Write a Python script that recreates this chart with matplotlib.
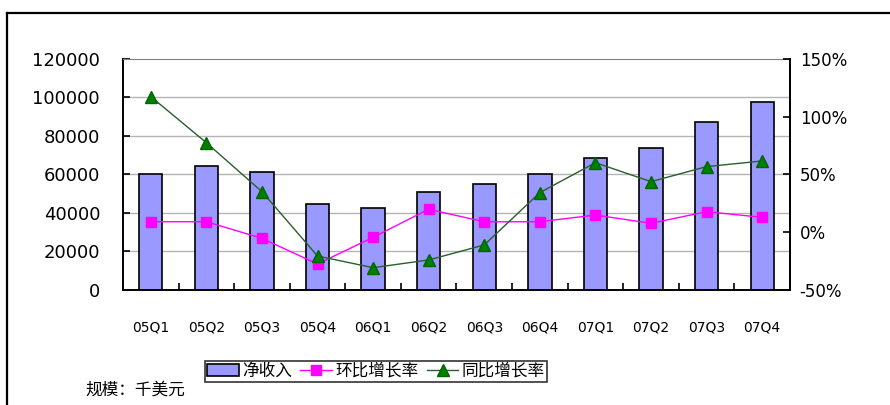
import numpy as np
import matplotlib.pyplot as plt
from matplotlib.lines import Line2D
from matplotlib.ticker import FixedLocator

plt.rcParams["font.family"] = ["DejaVu Sans", "Noto Sans CJK SC"]

quarters = ["05Q1", "05Q2", "05Q3", "05Q4", "06Q1", "06Q2",
            "06Q3", "06Q4", "07Q1", "07Q2", "07Q3", "07Q4"]
net_revenue = [60300, 64400, 61300, 44700, 42600, 50900,
               55100, 60300, 68700, 73900, 87400, 97800]
qoq_growth = [9.1, 9.1, -5.3, -27.5, -4.4, 19.9,
              9.0, 9.1, 14.9, 7.7, 17.8, 12.9]
yoy_growth = [117.4, 77.5, 35.1, -20.6, -30.7, -24.0,
              -11.0, 34.3, 60.2, 43.8, 56.8, 61.7]

left_ticks = [0, 20000, 40000, 60000, 80000, 100000, 120000]
right_ticks = [-50, 0, 50, 100, 150]

fig = plt.figure(figsize=(8.9, 4.05), dpi=100)
ax = fig.add_axes([0.1382, 0.2840, 0.7494, 0.5704])
x = np.arange(len(quarters))

ax.bar(x, net_revenue, width=0.42, color="#9999FF", edgecolor="black",
       linewidth=1.2, zorder=2, label="净收入")
ax.set_xlim(-0.5, len(quarters) - 0.5)
ax.set_ylim(0, 120000)
ax.set_yticks(left_ticks)
ax.set_yticklabels([str(v) for v in left_ticks])
for v in left_ticks[1:-1]:
    ax.axhline(v, color="#b4b4b4", linewidth=1, zorder=1)

ax.set_xticks(x)
ax.set_xticklabels(quarters, fontsize=10)
ax.xaxis.set_minor_locator(FixedLocator(x[:-1] + 0.5))
ax.tick_params(axis="x", which="major", length=0, pad=22)
ax.tick_params(axis="x", which="minor", direction="in", length=5, width=1.2)
ax.tick_params(axis="y", direction="in", length=5, width=1.2, pad=16.5,
               labelsize=13)
ax.spines["top"].set_color("#808080")
ax.spines["left"].set_linewidth(1.4)
ax.spines["bottom"].set_linewidth(1.4)
ax.spines["right"].set_linewidth(1.4)

ax2 = ax.twinx()
ax2.set_ylim(-50, 150)
ax2.set_yticks(right_ticks)
ax2.set_yticklabels([f"{v}%" for v in right_ticks])
ax2.tick_params(axis="y", direction="in", length=5, width=1.2, pad=7,
                labelsize=12)
ax2.spines["right"].set_linewidth(1.4)
ax2.spines["top"].set_visible(False)
ax2.spines["left"].set_visible(False)
ax2.spines["bottom"].set_visible(False)

ax2.plot(x, qoq_growth, color="#FF00FF", linewidth=1, marker="s",
         markersize=7, markeredgecolor="#FF00FF", label="环比增长率", zorder=3)
ax2.plot(x, yoy_growth, color="#2a5e2a", linewidth=1, marker="^",
         markersize=8, markerfacecolor="#008000", markeredgecolor="#006400",
         label="同比增长率", zorder=4)

handles = [ax.patches[0]] + ax2.get_lines()
labels = ["净收入", "环比增长率", "同比增长率"]
leg = fig.legend(handles, labels, loc="center", bbox_to_anchor=(0.4225, 0.0827),
                 ncol=3, frameon=True, fancybox=False, shadow=False,
                 handlelength=1.9, handletextpad=0.2, columnspacing=0.5,
                 borderpad=0.1, prop={"family": ["Noto Sans CJK SC"], "size": 12})
leg.get_frame().set_edgecolor("black")
leg.get_frame().set_linewidth(1.2)

fig.text(0.0955, 0.037, "规模：千美元", fontsize=12, va="center", ha="left",
         family=["Noto Sans CJK SC"])

# outer chart frame (left and top edges)
fig.add_artist(Line2D([7 / 890, 7 / 890], [0, 1 - 13 / 405],
                      transform=fig.transFigure, color="black", linewidth=1.6))
fig.add_artist(Line2D([7 / 890, 1], [1 - 13 / 405, 1 - 13 / 405],
                      transform=fig.transFigure, color="black", linewidth=1.6))

fig.savefig("out.png", dpi=100)
